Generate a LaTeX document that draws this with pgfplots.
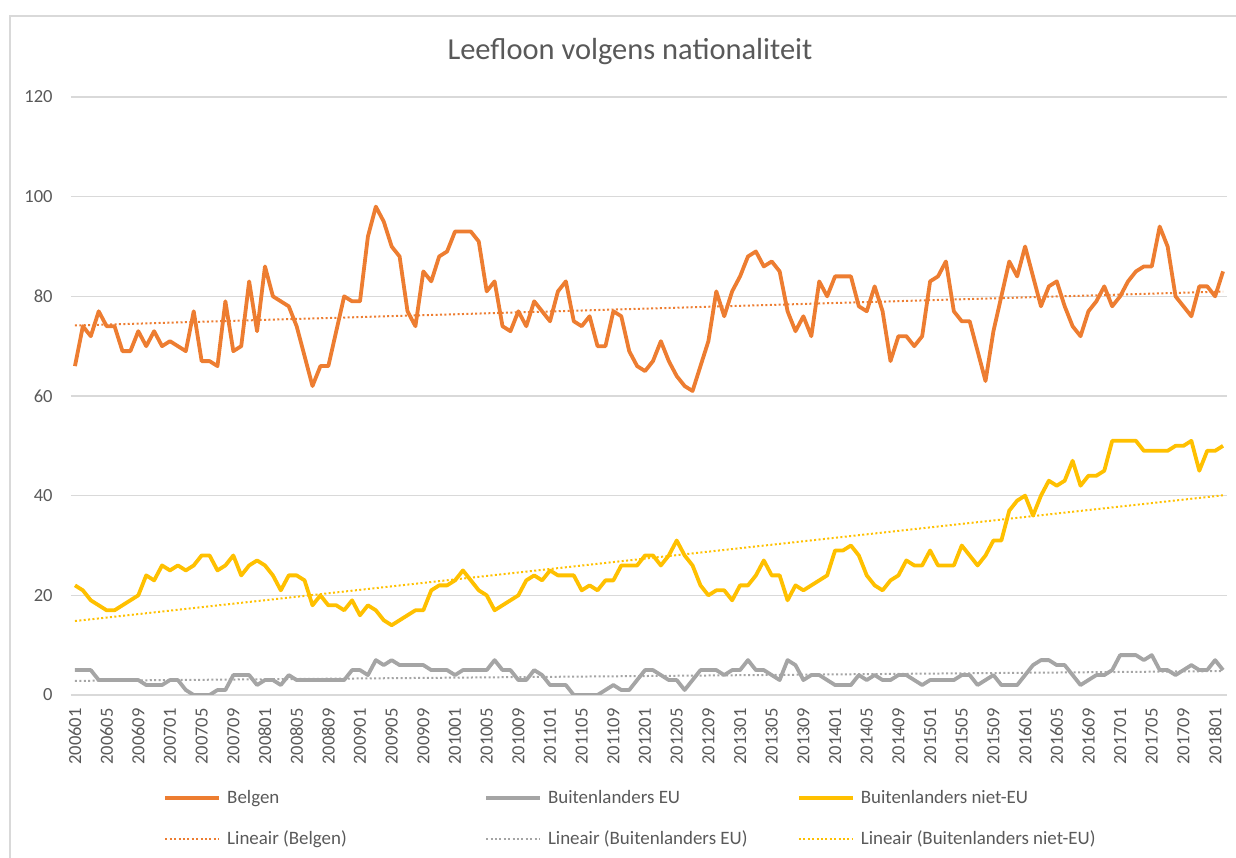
\documentclass[border=0pt]{standalone}
\usepackage{pgfplots}
\pgfplotsset{compat=1.18}
\usepackage{pgfplotstable}
\usepackage{fontspec}
\setmainfont{Carlito}
\definecolor{cB}{HTML}{ED7D31}
\definecolor{cEU}{HTML}{A5A5A5}
\definecolor{cNEU}{HTML}{FFC000}
\definecolor{txt}{HTML}{595959}
\definecolor{grd}{HTML}{D9D9D9}

\pgfplotstableread{
i B EU NEU
0 66 5 22
1 74 5 21
2 72 5 19
3 77 3 18
4 74 3 17
5 74 3 17
6 69 3 18
7 69 3 19
8 73 3 20
9 70 2 24
10 73 2 23
11 70 2 26
12 71 3 25
13 70 3 26
14 69 1 25
15 77 0 26
16 67 0 28
17 67 0 28
18 66 1 25
19 79 1 26
20 69 4 28
21 70 4 24
22 83 4 26
23 73 2 27
24 86 3 26
25 80 3 24
26 79 2 21
27 78 4 24
28 74 3 24
29 68 3 23
30 62 3 18
31 66 3 20
32 66 3 18
33 73 3 18
34 80 3 17
35 79 5 19
36 79 5 16
37 92 4 18
38 98 7 17
39 95 6 15
40 90 7 14
41 88 6 15
42 77 6 16
43 74 6 17
44 85 6 17
45 83 5 21
46 88 5 22
47 89 5 22
48 93 4 23
49 93 5 25
50 93 5 23
51 91 5 21
52 81 5 20
53 83 7 17
54 74 5 18
55 73 5 19
56 77 3 20
57 74 3 23
58 79 5 24
59 77 4 23
60 75 2 25
61 81 2 24
62 83 2 24
63 75 0 24
64 74 0 21
65 76 0 22
66 70 0 21
67 70 1 23
68 77 2 23
69 76 1 26
70 69 1 26
71 66 3 26
72 65 5 28
73 67 5 28
74 71 4 26
75 67 3 28
76 64 3 31
77 62 1 28
78 61 3 26
79 66 5 22
80 71 5 20
81 81 5 21
82 76 4 21
83 81 5 19
84 84 5 22
85 88 7 22
86 89 5 24
87 86 5 27
88 87 4 24
89 85 3 24
90 77 7 19
91 73 6 22
92 76 3 21
93 72 4 22
94 83 4 23
95 80 3 24
96 84 2 29
97 84 2 29
98 84 2 30
99 78 4 28
100 77 3 24
101 82 4 22
102 77 3 21
103 67 3 23
104 72 4 24
105 72 4 27
106 70 3 26
107 72 2 26
108 83 3 29
109 84 3 26
110 87 3 26
111 77 3 26
112 75 4 30
113 75 4 28
114 69 2 26
115 63 3 28
116 73 4 31
117 80 2 31
118 87 2 37
119 84 2 39
120 90 4 40
121 84 6 36
122 78 7 40
123 82 7 43
124 83 6 42
125 78 6 43
126 74 4 47
127 72 2 42
128 77 3 44
129 79 4 44
130 82 4 45
131 78 5 51
132 80 8 51
133 83 8 51
134 85 8 51
135 86 7 49
136 86 8 49
137 94 5 49
138 90 5 49
139 80 4 50
140 78 5 50
141 76 6 51
142 82 5 45
143 82 5 49
144 80 7 49
145 85 5 50
}\data

\begin{document}
\begin{tikzpicture}
\useasboundingbox (0,0) rectangle (618bp,429bp);
\draw[grd, line width=0.75bp] (5bp,0) -- (5bp,421bp) -- (618bp,421bp);
\node[text=txt, font=\fontsize{15.3}{17}\selectfont] at (315bp,403bp) {Leefloon volgens nationaliteit};
\begin{axis}[
  at={(35.5bp,81.5bp)}, anchor=south west,
  width=578bp, height=299bp, scale only axis,
  xmin=-0.5, xmax=145.5, ymin=0, ymax=120,
  ytick={0,20,...,120},
  xtick={0,4,...,144},
  xticklabels={200601,200605,200609,200701,200705,200709,200801,200805,200809,200901,200905,200909,201001,201005,201009,201101,201105,201109,201201,201205,201209,201301,201305,201309,201401,201405,201409,201501,201505,201509,201601,201605,201609,201701,201705,201709,201801},
  axis line style={draw=none},
  tick style={draw=none},
  ymajorgrids, grid style={grd, line width=0.75bp},
  /pgf/number format/assume math mode=true,
  ticklabel style={text=txt, font=\fontsize{9.3}{11}\selectfont},
  xticklabel style={rotate=90, anchor=east, inner sep=0pt},
  xticklabel shift=6.5bp,
  yticklabel style={anchor=east, inner sep=0pt},
  yticklabel shift=9bp,
  legend columns=3,
  legend style={draw=none, fill=none, at={(0.0796,-0.152)}, anchor=north west,
    inner sep=0pt, row sep=8bp, text=txt, font=\fontsize{9.5}{11}\selectfont,
    nodes={inner xsep=3bp}},
  legend cell align=left,
  legend image code/.code={\draw[#1] (0bp,0bp) -- (27bp,0bp);},
  line join=round,
]
\addplot[cB, line width=1.9bp] table[x=i, y=B] {\data};
\addlegendentry{\makebox[125.5bp][l]{Belgen}}
\addplot[cEU, line width=1.9bp] table[x=i, y=EU] {\data};
\addlegendentry{\makebox[121.5bp][l]{Buitenlanders EU}}
\addplot[cNEU, line width=1.9bp] table[x=i, y=NEU] {\data};
\addlegendentry{Buitenlanders niet-EU}
\addplot[cB, line width=1bp, dash pattern=on 1bp off 1.2bp] table[x=i, y={create col/linear regression={y=B}}] {\data};
\addlegendentry{\makebox[125.5bp][l]{Lineair (Belgen)}}
\addplot[cEU, line width=1bp, dash pattern=on 1bp off 1.2bp] table[x=i, y={create col/linear regression={y=EU}}] {\data};
\addlegendentry{\makebox[121.5bp][l]{Lineair (Buitenlanders EU)}}
\addplot[cNEU, line width=1bp, dash pattern=on 1bp off 1.2bp] table[x=i, y={create col/linear regression={y=NEU}}] {\data};
\addlegendentry{Lineair (Buitenlanders niet-EU)}
\end{axis}
\end{tikzpicture}
\end{document}
